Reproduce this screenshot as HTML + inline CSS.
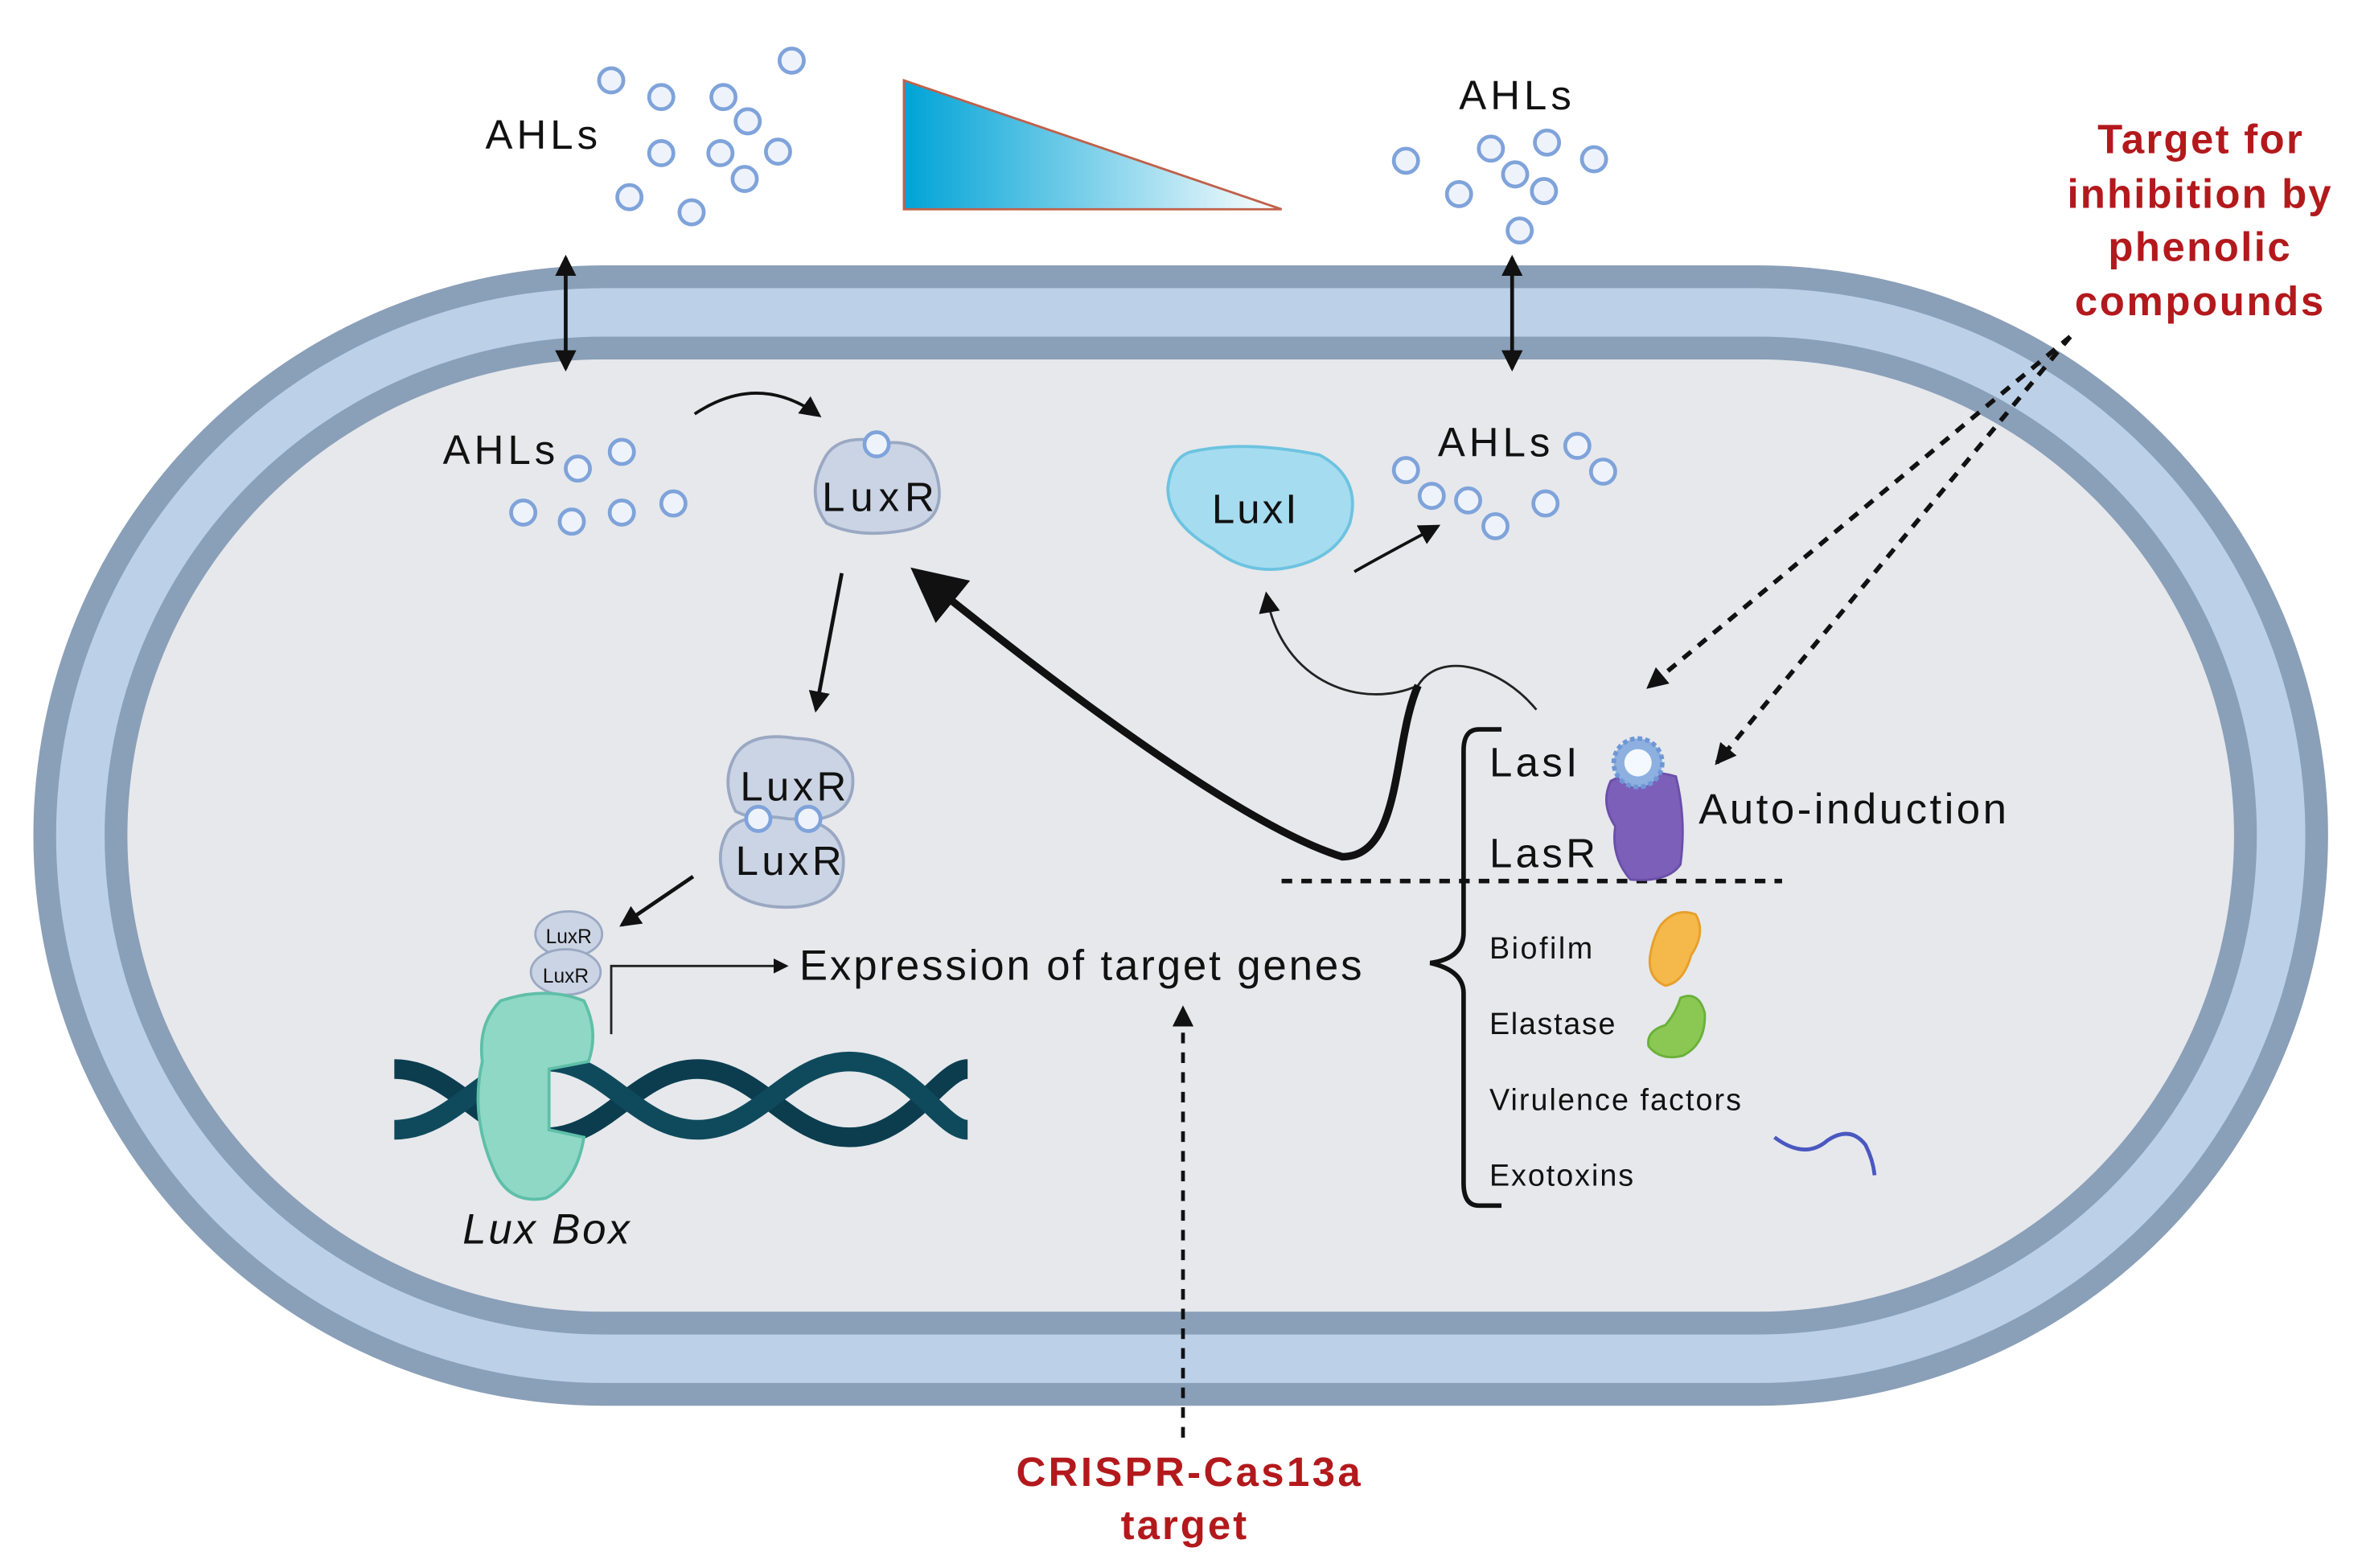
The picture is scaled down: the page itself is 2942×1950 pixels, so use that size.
<!DOCTYPE html>
<html><head><meta charset="utf-8"><style>
html,body{margin:0;padding:0;background:#fff}
svg{display:block}
text{font-family:"Liberation Sans",sans-serif}
</style></head><body>
<svg width="2942" height="1950" viewBox="0 0 1560 1034" preserveAspectRatio="none" xmlns="http://www.w3.org/2000/svg">
<defs>
<linearGradient id="g" x1="0" x2="1" y1="0" y2="0"><stop offset="0" stop-color="#00a3d6"/><stop offset="1" stop-color="#ffffff"/></linearGradient>
<marker id="ah" markerWidth="10" markerHeight="10" refX="8" refY="5" orient="auto" markerUnits="userSpaceOnUse"><path d="M0,0 L10,5 L0,10 z" fill="#111"/></marker>
<marker id="ahs" markerWidth="14" markerHeight="14" refX="12" refY="7" orient="auto-start-reverse" markerUnits="userSpaceOnUse"><path d="M0,0 L14,7 L0,14 z" fill="#111"/></marker>
<marker id="big" markerWidth="40" markerHeight="40" refX="30" refY="20" orient="auto" markerUnits="userSpaceOnUse"><path d="M0,2 L36,20 L0,38 z" fill="#111"/></marker>
</defs>
<rect width="1560" height="1034" fill="#fff"/>
<rect x="22" y="175" width="1513" height="752" rx="376" fill="#8a9fb8"/>
<rect x="37" y="190" width="1483" height="722" rx="361" fill="#bcd0e8"/>
<rect x="69" y="222" width="1419" height="658" rx="329" fill="#8a9fb8"/>
<rect x="84" y="237" width="1389" height="628" rx="314" fill="#e6e8ec"/>
<polygon points="596,53 596,138 845,138" fill="url(#g)" stroke="#c0604a" stroke-width="1.5"/>
<g fill="#eef3fb" stroke="#7fa3da" stroke-width="2.5">
<circle cx="403" cy="53" r="8"/><circle cx="436" cy="64" r="8"/><circle cx="477" cy="64" r="8"/><circle cx="522" cy="40" r="8"/><circle cx="493" cy="80" r="8"/><circle cx="436" cy="101" r="8"/><circle cx="475" cy="101" r="8"/><circle cx="513" cy="100" r="8"/><circle cx="491" cy="118" r="8"/><circle cx="415" cy="130" r="8"/><circle cx="456" cy="140" r="8"/>
<circle cx="927" cy="106" r="8"/><circle cx="983" cy="98" r="8"/><circle cx="1020" cy="94" r="8"/><circle cx="1051" cy="105" r="8"/><circle cx="999" cy="115" r="8"/><circle cx="1018" cy="126" r="8"/><circle cx="962" cy="128" r="8"/><circle cx="1002" cy="152" r="8"/>
<circle cx="381" cy="309" r="8"/><circle cx="410" cy="298" r="8"/><circle cx="345" cy="338" r="8"/><circle cx="377" cy="344" r="8"/><circle cx="410" cy="338" r="8"/><circle cx="444" cy="332" r="8"/>
<circle cx="1040" cy="294" r="8"/><circle cx="1057" cy="311" r="8"/><circle cx="927" cy="310" r="8"/><circle cx="944" cy="327" r="8"/><circle cx="968" cy="330" r="8"/><circle cx="986" cy="347" r="8"/><circle cx="1019" cy="332" r="8"/>
</g>
<g font-size="27" fill="#111">
<text x="320" y="98" textLength="74">AHLs</text>
<text x="962" y="72" textLength="74">AHLs</text>
<text x="292" y="306" textLength="74">AHLs</text>
<text x="948" y="301" textLength="74">AHLs</text>
</g>
<g font-size="27" font-weight="bold" fill="#b3191c">
<text x="1383" y="101" textLength="135">Target for</text>
<text x="1363" y="137" textLength="174">inhibition by</text>
<text x="1390" y="172" textLength="120">phenolic</text>
<text x="1368" y="208" textLength="164">compounds</text>
<text x="670" y="980" textLength="227">CRISPR-Cas13a</text>
<text x="739" y="1015" textLength="83">target</text>
</g>
<line x1="373" y1="170" x2="373" y2="243" stroke="#111" stroke-width="2.5" marker-start="url(#ahs)" marker-end="url(#ahs)"/>
<line x1="997" y1="170" x2="997" y2="243" stroke="#111" stroke-width="2.5" marker-start="url(#ahs)" marker-end="url(#ahs)"/>
<path d="M458,273 Q500,245 540,274" fill="none" stroke="#111" stroke-width="2" marker-end="url(#ahs)"/>
<path d="M545,300 Q555,285 585,292 Q612,290 618,315 Q625,345 595,350 Q565,355 545,345 Q530,325 545,300z" fill="#cbd4e4" stroke="#9aa8c2" stroke-width="2"/>
<circle cx="578" cy="293" r="8" fill="#eef3fb" stroke="#7fa3da" stroke-width="2.5"/>
<text x="542" y="337" font-size="27" fill="#111" textLength="74">LuxR</text>
<path d="M785,298 Q820,290 870,300 Q898,315 890,345 Q880,370 845,375 Q820,378 800,362 Q770,345 770,322 Q772,302 785,298z" fill="#a6dcef" stroke="#6cc3e0" stroke-width="2"/>
<text x="799" y="345" font-size="27" fill="#111" textLength="56">LuxI</text>
<path d="M893,377 Q905,370 948,347" fill="none" stroke="#111" stroke-width="2" marker-end="url(#ahs)"/>
<line x1="1365" y1="222" x2="1087" y2="453" stroke="#111" stroke-width="3" stroke-dasharray="7,6" marker-end="url(#ahs)"/>
<line x1="1365" y1="222" x2="1132" y2="503" stroke="#111" stroke-width="3" stroke-dasharray="7,6" marker-end="url(#ahs)"/>
<path d="M1013,468 C990,440 950,428 935,452 C900,468 845,452 835,392" fill="none" stroke="#222" stroke-width="1.5" marker-end="url(#ahs)"/>
<path d="M935,452 C918,490 925,565 885,565 C820,545 700,455 605,378" fill="none" stroke="#111" stroke-width="5" marker-end="url(#big)"/>
<line x1="555" y1="378" x2="538" y2="468" stroke="#111" stroke-width="2.5" marker-end="url(#ahs)"/>
<path d="M485,498 Q495,482 525,487 Q555,488 562,510 Q565,535 540,540 Q505,545 485,535 Q475,515 485,498z" fill="#cbd4e4" stroke="#9aa8c2" stroke-width="2"/>
<path d="M480,548 Q490,535 520,540 Q552,540 556,565 Q558,595 525,598 Q495,600 480,585 Q470,565 480,548z" fill="#cbd4e4" stroke="#9aa8c2" stroke-width="2"/>
<circle cx="500" cy="540" r="8" fill="#eef3fb" stroke="#7fa3da" stroke-width="2.5"/>
<circle cx="533" cy="540" r="8" fill="#eef3fb" stroke="#7fa3da" stroke-width="2.5"/>
<text x="488" y="528" font-size="27" fill="#111" textLength="70">LuxR</text>
<text x="485" y="577" font-size="27" fill="#111" textLength="70">LuxR</text>
<line x1="457" y1="578" x2="410" y2="610" stroke="#111" stroke-width="2.5" marker-end="url(#ahs)"/>
<ellipse cx="375" cy="616" rx="22" ry="15" fill="#cbd4e4" stroke="#9aa8c2" stroke-width="1.5"/>
<ellipse cx="373" cy="641" rx="23" ry="15" fill="#cbd4e4" stroke="#9aa8c2" stroke-width="1.5"/>
<text x="375" y="622" font-size="13" text-anchor="middle" fill="#111">LuxR</text>
<text x="373" y="648" font-size="13" text-anchor="middle" fill="#111">LuxR</text>
<path d="M260,705 C300,705 320,750 360,750 C400,750 420,705 460,705 C500,705 520,750 560,750 C600,750 620,705 638,705" fill="none" stroke="#0b3d4f" stroke-width="13"/>
<path d="M260,745 C300,745 320,700 360,700 C400,700 420,745 460,745 C500,745 520,700 560,700 C600,700 620,745 638,745" fill="none" stroke="#0f4a5c" stroke-width="13"/>
<path d="M330,660 Q360,650 385,660 Q395,680 388,700 L362,705 L362,745 L385,750 Q380,780 360,790 Q335,795 325,770 Q310,735 318,700 Q315,675 330,660z" fill="#8fd8c6" stroke="#5fbfa8" stroke-width="2"/>
<text x="305" y="820" font-size="28" font-style="italic" fill="#111" textLength="110">Lux Box</text>
<path d="M403,682 L403,637 L518,637" fill="none" stroke="#222" stroke-width="1.5" marker-end="url(#ah)"/>
<text x="527" y="646" font-size="28" fill="#111" textLength="371">Expression of target genes</text>
<line x1="780" y1="948" x2="780" y2="665" stroke="#111" stroke-width="2.5" stroke-dasharray="7,6" marker-end="url(#ahs)"/>
<path d="M990,481 L975,481 Q965,481 965,495 L965,615 Q965,632 943,635 Q965,640 965,655 L965,780 Q965,795 975,795 L990,795" fill="none" stroke="#111" stroke-width="3"/>
<text x="982" y="512" font-size="27" fill="#111" textLength="58">LasI</text>
<text x="982" y="572" font-size="27" fill="#111" textLength="70">LasR</text>
<text x="1120" y="543" font-size="28" fill="#111" textLength="203">Auto-induction</text>
<line x1="845" y1="581" x2="1175" y2="581" stroke="#111" stroke-width="3" stroke-dasharray="7,6"/>
<path d="M1062,515 Q1080,505 1105,512 Q1112,540 1108,570 Q1100,582 1075,580 Q1062,565 1065,545 Q1055,530 1062,515z" fill="#7c5fb8" stroke="#6a4fa8" stroke-width="1.5"/>
<circle cx="1080" cy="503" r="16" fill="#8db0e0" stroke="#6f97d6" stroke-width="3" stroke-dasharray="3,2"/>
<circle cx="1080" cy="503" r="9" fill="#f4f8ff"/>
<g font-size="20" fill="#111">
<text x="982" y="632" textLength="68">Biofilm</text>
<text x="982" y="682" textLength="83">Elastase</text>
<text x="982" y="732" textLength="166">Virulence factors</text>
<text x="982" y="782" textLength="95">Exotoxins</text>
</g>
<path d="M1095,610 Q1105,598 1118,603 Q1125,615 1115,630 Q1110,648 1098,650 Q1086,645 1088,630 Q1090,618 1095,610z" fill="#f5b84a" stroke="#e79f2a" stroke-width="1.5"/>
<path d="M1108,658 Q1120,653 1124,668 Q1125,688 1110,696 Q1095,700 1087,690 Q1085,680 1098,676 Q1105,668 1108,658z" fill="#8bc753" stroke="#6ab03a" stroke-width="1.5"/>
<path d="M1170,750 Q1190,765 1205,752 Q1220,742 1230,755 Q1235,765 1236,775" fill="none" stroke="#4b57c0" stroke-width="2.5"/>
</svg>
</body></html>
